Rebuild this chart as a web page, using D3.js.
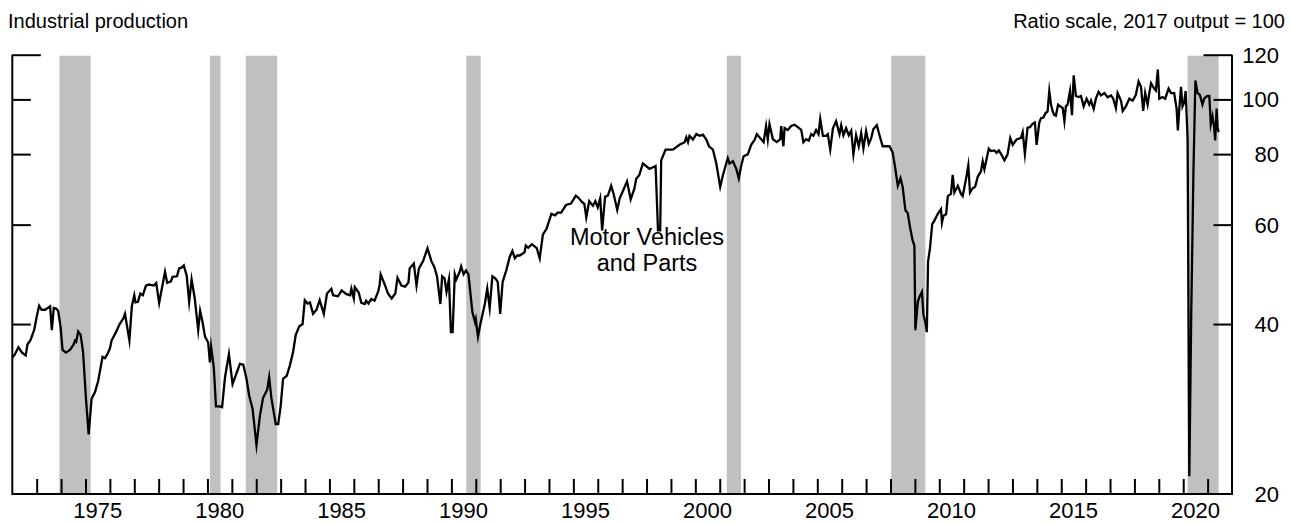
<!DOCTYPE html>
<html>
<head>
<meta charset="utf-8">
<script src="https://cdn.jsdelivr.net/npm/d3@7"></script>
<style>
  html, body { margin: 0; padding: 0; background: #fff; }
  svg { display: block; font-family: "Liberation Sans", Arial, Helvetica, sans-serif; }
</style>
</head>
<body>
<svg id="chart" width="1291" height="525"></svg>
<script>
// ---- Data ----
const titleLeft = "Industrial production";
const titleRight = "Ratio scale, 2017 output = 100";
const annotationLines = ["Motor Vehicles", "and Parts"];
const annotationYear = 1998.02;

const yTickValues = [20, 40, 60, 80, 100, 120];
const yTickLabels = ["20", "40", "60", "80", "100", "120"];
const xLabelYears = [1975, 1980, 1985, 1990, 1995, 2000, 2005, 2010, 2015, 2020];
const xTickYears = d3.range(1973, 2022);

const recessionStarts = [1973.93, 1980.10, 1981.57, 1990.61, 2001.29, 2008.03, 2020.18];
const recessionEnds   = [1975.21, 1980.54, 1982.86, 1991.20, 2001.87, 2009.43, 2021.45];

const dates = [
1972.00,1972.10,1972.25,1972.40,1972.55,1972.62,1972.75,1972.90,1973.00,1973.10,1973.20,1973.35,1973.55,1973.62,1973.70,1973.80,1973.88,1973.98,
1974.06,1974.20,1974.36,1974.50,1974.57,1974.62,1974.70,1974.80,1974.90,1975.02,1975.13,1975.25,1975.39,1975.52,1975.70,1975.80,1975.90,
1976.00,1976.07,1976.25,1976.40,1976.55,1976.62,1976.80,1976.90,1977.00,1977.05,1977.15,1977.25,1977.35,1977.48,1977.60,1977.80,1977.90,
1978.02,1978.10,1978.26,1978.35,1978.50,1978.57,1978.75,1978.84,1978.95,1979.03,1979.15,1979.25,1979.35,1979.48,1979.62,1979.70,1979.80,1979.90,
1980.03,1980.10,1980.15,1980.26,1980.35,1980.50,1980.60,1980.72,1980.88,1981.03,1981.20,1981.33,1981.47,1981.60,1981.71,1981.85,
1982.01,1982.15,1982.28,1982.45,1982.53,1982.62,1982.80,1982.90,1983.00,1983.10,1983.25,1983.38,1983.51,1983.62,1983.76,1983.90,1983.99,
1984.10,1984.20,1984.33,1984.47,1984.60,1984.77,1984.90,1985.08,1985.15,1985.35,1985.50,1985.70,1985.85,1985.90,1986.00,1986.04,1986.20,
1986.31,1986.45,1986.50,1986.60,1986.72,1986.85,1987.00,1987.06,1987.10,1987.30,1987.40,1987.55,1987.70,1987.79,1987.95,1988.10,1988.24,
1988.29,1988.46,1988.57,1988.67,1988.84,1989.02,1989.18,1989.30,1989.41,1989.55,1989.62,1989.72,1989.80,1989.90,1989.98,1990.05,1990.14,
1990.20,1990.34,1990.40,1990.50,1990.60,1990.70,1990.86,1990.97,1991.00,1991.09,1991.20,1991.37,1991.47,1991.57,1991.68,1991.80,1991.90,
1992.00,1992.10,1992.25,1992.39,1992.50,1992.60,1992.70,1992.80,1993.00,1993.05,1993.15,1993.30,1993.50,1993.62,1993.75,1993.90,1994.10,
1994.25,1994.35,1994.50,1994.70,1994.90,1995.10,1995.20,1995.37,1995.45,1995.53,1995.65,1995.80,1995.90,1996.00,1996.10,1996.18,1996.30,
1996.42,1996.55,1996.65,1996.80,1996.90,1997.05,1997.20,1997.35,1997.50,1997.58,1997.70,1997.85,1998.12,1998.37,1998.47,1998.56,1998.60,
1998.78,1999.08,1999.35,1999.56,1999.63,1999.70,1999.76,1999.90,2000.04,2000.17,2000.31,2000.45,2000.56,2000.72,2000.86,2001.02,2001.13,
2001.24,2001.33,2001.40,2001.54,2001.68,2001.78,2001.88,2001.98,2002.15,2002.29,2002.43,2002.52,2002.70,2002.80,2002.90,2002.97,2003.04,
2003.18,2003.34,2003.48,2003.52,2003.61,2003.66,2003.79,2003.93,2004.07,2004.20,2004.34,2004.43,2004.54,2004.65,2004.75,2004.84,2004.95,
2005.05,2005.12,2005.23,2005.36,2005.43,2005.53,2005.64,2005.77,2005.91,2005.98,2006.07,2006.18,2006.29,2006.39,2006.48,2006.59,2006.70,
2006.80,2006.89,2007.00,2007.11,2007.21,2007.30,2007.44,2007.55,2007.68,2007.82,2007.96,2008.09,2008.20,2008.30,2008.41,2008.50,2008.61,
2008.71,2008.80,2008.91,2008.98,2009.02,2009.12,2009.19,2009.29,2009.35,2009.43,2009.49,2009.54,2009.62,2009.71,2009.80,2009.94,2010.07,
2010.11,2010.17,2010.28,2010.35,2010.48,2010.55,2010.62,2010.76,2010.89,2010.96,2011.10,2011.19,2011.26,2011.37,2011.47,2011.58,2011.71,
2011.78,2011.85,2012.03,2012.12,2012.26,2012.35,2012.44,2012.53,2012.67,2012.80,2012.91,2013.01,2013.17,2013.35,2013.42,2013.51,2013.62,
2013.72,2013.83,2013.92,2013.99,2014.10,2014.17,2014.27,2014.35,2014.44,2014.51,2014.58,2014.65,2014.72,2014.78,2014.87,2014.95,2015.06,
2015.13,2015.19,2015.26,2015.36,2015.44,2015.51,2015.60,2015.71,2015.81,2015.92,2016.04,2016.15,2016.22,2016.33,2016.42,2016.53,2016.63,
2016.77,2016.90,2017.04,2017.13,2017.24,2017.31,2017.45,2017.52,2017.65,2017.79,2017.93,2018.06,2018.17,2018.27,2018.36,2018.44,2018.54,
2018.61,2018.68,2018.81,2018.88,2018.96,2019.02,2019.15,2019.26,2019.40,2019.50,2019.63,2019.73,2019.78,2019.84,2019.91,2019.97,2020.04,
2020.10,2020.18,2020.25,2020.33,2020.42,2020.50,2020.59,2020.68,2020.79,2020.86,2020.93,2021.00,2021.07,2021.13,2021.20,2021.27,2021.31,
2021.37,2021.41,2021.45
];

const values = [
34.9,35.3,36.4,35.6,35.2,36.8,37.5,39.1,41.2,43.1,42.4,42.4,43.0,39.0,42.7,42.6,42.2,39.5,
36.0,35.6,36.0,36.7,37.4,37.2,38.8,38.3,35.7,29.5,25.5,29.5,30.3,31.7,35.0,34.8,35.4,
36.2,37.4,38.7,40.0,40.9,41.7,37.4,43.0,45.0,43.7,43.8,45.3,45.0,46.8,47.0,46.8,47.3,
43.6,45.5,49.5,47.3,47.6,48.5,48.6,50.2,50.4,50.8,48.7,43.8,48.0,44.4,39.0,42.2,40.3,38.0,
37.1,34.2,36.5,33.5,28.6,28.6,28.5,32.2,35.4,31.3,32.8,34.0,33.9,32.0,29.9,28.3,
24.4,27.5,29.6,30.6,32.2,29.6,26.6,26.6,28.6,32.0,32.4,33.8,35.7,38.3,39.6,40.0,44.1,
43.5,43.7,41.7,42.4,44.1,41.7,45.3,46.2,45.0,44.8,45.9,45.2,45.0,46.2,44.4,46.5,45.5,
43.6,43.4,44.0,43.5,44.3,44.0,45.7,47.0,49.0,46.6,45.3,44.4,45.3,48.3,46.8,46.6,47.4,
50.2,51.2,46.8,50.2,51.7,54.5,51.7,50.5,48.6,43.4,48.6,48.2,45.6,48.0,38.7,38.7,49.0,
48.0,49.5,50.6,49.0,49.8,49.0,42.0,40.3,40.8,38.0,40.2,43.4,46.2,42.7,48.6,48.2,47.5,
41.7,47.5,49.8,52.6,53.9,52.3,52.9,52.9,53.6,55.1,54.6,55.4,54.5,52.3,57.6,59.0,62.7,
62.3,63.0,63.0,65.0,65.4,67.5,67.0,65.7,65.3,61.8,66.0,64.8,66.0,64.4,66.8,58.6,67.2,
67.6,70.3,68.0,63.7,66.8,69.1,71.6,66.5,69.5,72.4,73.4,77.0,75.3,76.2,58.6,58.6,78.0,
81.5,81.5,83.1,84.0,85.7,84.0,86.2,84.9,86.8,86.2,86.6,84.9,82.6,81.5,77.0,70.0,73.4,
76.3,78.7,77.0,77.7,75.3,72.5,76.3,79.3,79.9,83.1,84.8,86.8,85.0,84.0,89.7,84.9,90.4,
85.0,84.0,85.0,89.7,82.6,89.0,88.3,89.7,90.2,89.3,88.3,84.0,85.0,84.5,86.8,86.2,88.3,
86.8,92.3,86.2,86.2,86.8,81.5,88.9,91.5,86.8,90.0,86.4,88.9,86.4,88.0,79.9,86.4,82.6,
87.2,81.9,87.9,83.4,85.4,88.6,90.0,86.4,82.6,82.6,82.6,80.5,75.3,70.3,72.5,70.0,63.7,
62.8,59.4,56.2,55.1,39.0,43.8,44.7,45.6,41.6,40.2,38.7,51.6,54.5,60.1,61.0,62.7,63.9,
60.5,62.2,62.6,67.4,68.0,73.5,68.4,70.3,68.0,67.4,72.4,76.4,68.4,69.6,70.0,73.0,74.6,
77.7,75.2,81.8,81.0,81.2,80.4,81.2,80.1,78.0,79.9,85.4,83.1,84.9,85.5,87.5,80.1,89.1,
89.3,90.6,91.0,83.1,91.0,92.6,92.9,94.5,95.2,103.5,97.9,95.2,93.8,93.6,97.9,97.2,96.6,
91.5,97.2,97.9,103.5,93.8,110.3,101.4,101.0,101.4,97.2,100.3,97.9,99.5,96.2,100.3,103.1,101.6,
102.6,100.9,101.6,100.3,96.5,102.6,99.5,95.4,97.2,100.3,99.5,101.9,107.6,105.3,95.4,102.6,97.9,
102.6,106.8,104.5,103.7,113.0,100.3,101.0,100.3,104.5,102.6,102.6,96.2,88.1,96.2,105.3,97.2,98.8,
103.5,85.0,21.5,42.0,75.0,108.0,102.6,101.9,97.9,100.3,101.0,101.4,101.4,90.4,93.4,89.2,84.6,
96.3,89.2,87.5
];

// ---- Chart ----
const svg = d3.select("#chart");
const plotL = 12.3, plotR = 1232, plotT = 54.7, plotB = 494;

const x = d3.scaleLinear().domain([1972, 2022]).range([plotL, plotR]);
const y = d3.scaleLog().domain([20, 120]).range([plotB, plotT]);

const series = dates.map((d, i) => ({ t: d, v: values[i] }));
const recessions = recessionStarts.map((s, i) => ({ s, e: recessionEnds[i] }));

// Recession shading
svg.append("g").selectAll("rect").data(recessions).join("rect")
  .attr("x", d => x(d.s))
  .attr("width", d => x(d.e) - x(d.s))
  .attr("y", 55.7)
  .attr("height", plotB - 55.7)
  .attr("fill", "#c0c0c0");

// Line
const line = d3.line().x(d => x(d.t)).y(d => y(d.v));
svg.append("path").datum(series)
  .attr("d", line)
  .attr("fill", "none")
  .attr("stroke", "#000")
  .attr("stroke-width", 2.3)
  .attr("stroke-linejoin", "miter")
  .attr("stroke-miterlimit", 10);

// Axes
const axisStroke = 2;
const xAxis = d3.axisTop(x).tickValues(xTickYears).tickSize(15).tickFormat("");
const gx = svg.append("g").attr("transform", `translate(0,${plotB})`).call(xAxis);
gx.select(".domain").remove();
gx.selectAll(".tick line").attr("stroke", "#000").attr("stroke-width", axisStroke);

const innerTicks = yTickValues.filter(v => v !== 20);
const yAxisL = d3.axisRight(y).tickValues(innerTicks).tickSize(18.5).tickFormat("");
const gl = svg.append("g").attr("transform", `translate(${plotL},0)`).call(yAxisL);
gl.select(".domain").remove();
gl.selectAll(".tick line").attr("stroke", "#000").attr("stroke-width", axisStroke)
  .attr("x2", d => d === 120 ? 28.5 : 18.5);

const yAxisR = d3.axisLeft(y).tickValues(innerTicks).tickSize(18.5).tickFormat("");
const gr = svg.append("g").attr("transform", `translate(${plotR},0)`).call(yAxisR);
gr.select(".domain").remove();
gr.selectAll(".tick line").attr("stroke", "#000").attr("stroke-width", axisStroke)
  .attr("x2", d => d === 120 ? -28.5 : -18.5);

svg.append("path")
  .attr("d", `M${plotL},${plotT}V${plotB}H${plotR}V${plotT}`)
  .attr("fill", "none").attr("stroke", "#000").attr("stroke-width", axisStroke)
  .attr("stroke-linejoin", "miter");

svg.append("g").selectAll("text").data(yTickValues).join("text")
  .attr("x", 1279)
  .attr("y", d => y(d))
  .attr("dy", "0.36em")
  .attr("text-anchor", "end")
  .attr("font-size", 22)
  .attr("fill", "#000")
  .text((d, i) => yTickLabels[i]);

svg.append("g").selectAll("text").data(xLabelYears).join("text")
  .attr("x", d => x(d + 0.5))
  .attr("y", 518)
  .attr("text-anchor", "middle")
  .attr("font-size", 22)
  .attr("fill", "#000")
  .text(d => String(d));

svg.append("text").attr("x", 8).attr("y", 28).attr("font-size", 20).attr("fill", "#000").text(titleLeft);
svg.append("text").attr("x", 1285).attr("y", 28).attr("text-anchor", "end").attr("font-size", 20).attr("fill", "#000").text(titleRight);

// annotation: two separate text lines
svg.append("g").selectAll("text").data(annotationLines).join("text")
  .attr("x", x(annotationYear))
  .attr("y", (d, i) => 244.5 + i * 26.5)
  .attr("text-anchor", "middle")
  .attr("font-size", 23.5)
  .attr("fill", "#000")
  .text(d => d);
</script>
</body>
</html>
